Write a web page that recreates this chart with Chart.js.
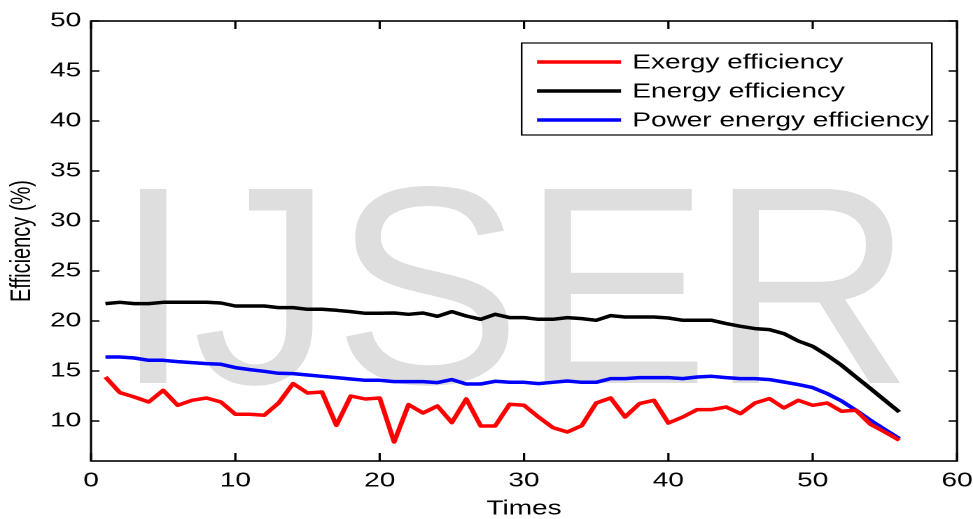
<!DOCTYPE html>
<html>
<head>
<meta charset="utf-8">
<script src="https://cdn.jsdelivr.net/npm/chart.js@4.4.0/dist/chart.umd.min.js"></script>
<style>
  body { margin: 0; background: #fff; overflow: hidden; }
  #wm {
    position: absolute; left: 114px; top: 145px;
    font: 282px "Liberation Sans", Arial, sans-serif; line-height: 282px;
    color: #dedede; white-space: nowrap;
  }
  /* the source figure is stretched sideways, so is the chart */
  #wrap {
    position: absolute; left: 0; top: 0;
    width: 695px; height: 519px;
    transform: scaleX(1.4); transform-origin: 0 0;
  }
</style>
</head>
<body>
<div id="wm">IJSER</div>
<div id="wrap"><canvas id="chart"></canvas></div>
<script>
const times = [1, 2, 3, 4, 5, 6, 7, 8, 9, 10, 11, 12, 13, 14, 15, 16, 17, 18, 19, 20,
  21, 22, 23, 24, 25, 26, 27, 28, 29, 30, 31, 32, 33, 34, 35, 36, 37, 38, 39, 40,
  41, 42, 43, 44, 45, 46, 47, 48, 49, 50, 51, 52, 53, 54, 55, 56];

const exergy = [14.4, 12.84, 12.4, 11.9, 13.07, 11.57, 12.07, 12.3, 11.9, 10.67,
  10.67, 10.57, 11.8, 13.74, 12.8, 12.9, 9.57, 12.5, 12.2, 12.3,
  7.9, 11.64, 10.8, 11.5, 9.84, 12.2, 9.5, 9.5, 11.67, 11.57,
  10.4, 9.34, 8.9, 9.54, 11.8, 12.3, 10.4, 11.74, 12.07, 9.8,
  10.4, 11.14, 11.14, 11.4, 10.74, 11.8, 12.24, 11.3, 12.07, 11.57,
  11.8, 10.97, 11.07, 9.67, 8.9, 8.07];

const energy = [21.74, 21.87, 21.74, 21.74, 21.87, 21.87, 21.87, 21.87, 21.8, 21.5,
  21.5, 21.5, 21.34, 21.34, 21.17, 21.17, 21.07, 20.94, 20.77, 20.77,
  20.8, 20.67, 20.8, 20.47, 20.94, 20.5, 20.17, 20.67, 20.34, 20.34,
  20.17, 20.17, 20.34, 20.24, 20.07, 20.54, 20.4, 20.4, 20.4, 20.3,
  20.07, 20.07, 20.07, 19.74, 19.47, 19.24, 19.14, 18.74, 18.0, 17.47,
  16.57, 15.57, 14.4, 13.24, 12.07, 10.9];

const power = [16.4, 16.4, 16.3, 16.07, 16.07, 15.94, 15.84, 15.74, 15.67, 15.34,
  15.14, 14.97, 14.77, 14.74, 14.6, 14.47, 14.34, 14.2, 14.07, 14.07,
  13.94, 13.94, 13.94, 13.84, 14.14, 13.7, 13.7, 13.97, 13.87, 13.87,
  13.74, 13.87, 14.0, 13.87, 13.87, 14.24, 14.24, 14.34, 14.34, 14.34,
  14.24, 14.4, 14.47, 14.34, 14.24, 14.24, 14.14, 13.9, 13.64, 13.34,
  12.74, 12.0, 11.07, 10.07, 9.14, 8.24];

const xTicks = [0, 10, 20, 30, 40, 50, 60];
const yTicks = [10, 15, 20, 25, 30, 35, 40, 45, 50];

const FONT = '"Liberation Sans", Arial, sans-serif';

// matlab style box with ticks pointing inwards on all four sides
const framePlugin = {
  id: 'frame',
  afterDatasetsDraw(chart) {
    const { ctx, chartArea: a, scales: { x, y } } = chart;
    ctx.save();
    ctx.strokeStyle = '#000';
    ctx.lineWidth = 1.6;
    ctx.strokeRect(a.left, a.top, a.right - a.left, a.bottom - a.top);
    ctx.beginPath();
    x.ticks.forEach(t => {
      const px = x.getPixelForValue(t.value);
      ctx.moveTo(px, a.bottom); ctx.lineTo(px, a.bottom - 8);
      ctx.moveTo(px, a.top); ctx.lineTo(px, a.top + 8);
    });
    y.ticks.forEach(t => {
      const py = y.getPixelForValue(t.value);
      ctx.moveTo(a.left, py); ctx.lineTo(a.left + 6, py);
      ctx.moveTo(a.right, py); ctx.lineTo(a.right - 6, py);
    });
    ctx.stroke();
    ctx.restore();
  }
};

const legendPlugin = {
  id: 'boxLegend',
  afterDraw(chart) {
    const { ctx, chartArea: a } = chart;
    const right = a.right - 18;
    const left = right - 293;
    const top = a.top + 22;
    ctx.save();
    ctx.fillStyle = '#fff';
    ctx.fillRect(left, top, right - left, 92);
    ctx.strokeStyle = '#000';
    ctx.lineWidth = 1.2;
    ctx.strokeRect(left, top, right - left, 92);
    ctx.font = '20px ' + FONT;
    ctx.textBaseline = 'middle';
    chart.data.datasets.forEach((ds, i) => {
      const cy = top + 19 + i * 29;
      ctx.strokeStyle = ds.borderColor;
      ctx.lineWidth = 3.5;
      ctx.beginPath();
      ctx.moveTo(left + 11, cy);
      ctx.lineTo(left + 71, cy);
      ctx.stroke();
      ctx.fillStyle = '#000';
      ctx.fillText(ds.label, left + 79, cy + 1);
    });
    ctx.restore();
  }
};

new Chart(document.getElementById('chart'), {
  type: 'line',
  data: {
    labels: times,
    datasets: [
      { label: 'Exergy efficiency', data: exergy, borderColor: '#ff0000' },
      { label: 'Energy efficiency', data: energy, borderColor: '#000000' },
      { label: 'Power energy efficiency', data: power, borderColor: '#0000ff' }
    ]
  },
  options: {
    responsive: true,
    maintainAspectRatio: false,
    devicePixelRatio: 2,
    animation: false,
    layout: { padding: { top: 21, right: 11.4, left: 0, bottom: 0 } },
    elements: {
      line: { borderWidth: 3.5, tension: 0, borderJoinStyle: 'round' },
      point: { radius: 0 }
    },
    plugins: {
      legend: { display: false },
      tooltip: { enabled: false }
    },
    scales: {
      x: {
        type: 'linear',
        min: 0,
        max: 60,
        afterBuildTicks: s => { s.ticks = xTicks.map(v => ({ value: v })); },
        afterFit: s => { s.height = 58; s.paddingLeft = 0; s.paddingRight = 0; },
        grid: { display: false, drawTicks: false },
        border: { display: false },
        ticks: { color: '#000', padding: 8, maxRotation: 0, font: { family: FONT, size: 20 } },
        title: {
          display: true, text: 'Times', color: '#000',
          padding: { top: 0, bottom: 0 },
          font: { family: FONT, size: 20, lineHeight: 1.0 }
        }
      },
      y: {
        min: 6,
        max: 50,
        afterBuildTicks: s => { s.ticks = yTicks.map(v => ({ value: v })); },
        afterFit: s => { s.width = 65; },
        grid: { display: false, drawTicks: false },
        border: { display: false },
        ticks: { color: '#000', padding: 7, font: { family: FONT, size: 20 } },
        title: {
          display: true, text: 'Efficiency (%)', color: '#000',
          padding: { top: 4, bottom: 4 },
          font: { family: FONT, size: 20 }
        }
      }
    }
  },
  plugins: [framePlugin, legendPlugin]
});
</script>
</body>
</html>
